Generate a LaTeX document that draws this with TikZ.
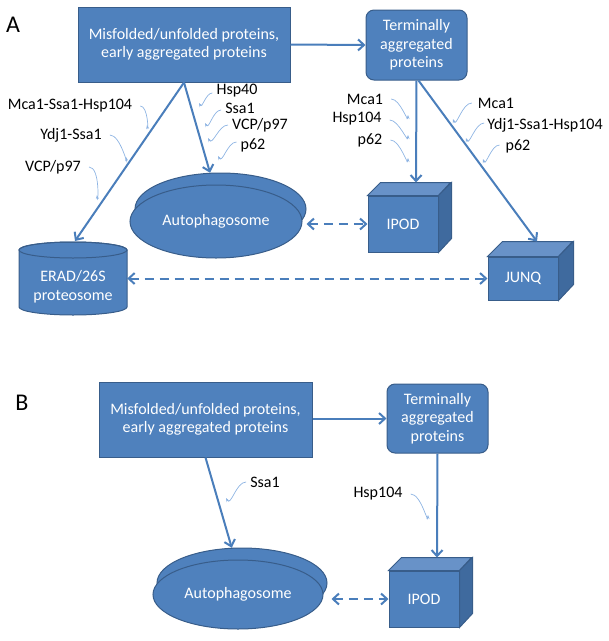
\documentclass[tikz,border=0pt]{standalone}
\usepackage{fontspec}
\setmainfont{Carlito}
\usetikzlibrary{shapes.geometric,arrows.meta,calc}
\definecolor{fillb}{HTML}{4F81BD}
\definecolor{edgeb}{HTML}{385D8A}
\definecolor{arrb}{HTML}{4A7EBB}
\definecolor{topf}{HTML}{6892C8}
\definecolor{sidef}{HTML}{3F6A9E}
\definecolor{curlc}{HTML}{8EB4E3}
\begin{document}
\begin{tikzpicture}[x=1pt,y=-1pt,
  txt/.style={font=\fontsize{16}{18.5}\selectfont},
  box/.style={txt,draw=edgeb,fill=fillb,line width=1pt,text=white,align=center,inner sep=0pt},
  facet/.style={draw=edgeb,line width=1pt},
  lbl/.style={txt,inner sep=0pt,text=black},
  panel/.style={font=\fontsize{24}{28}\selectfont,inner sep=0pt},
  flow/.style={draw=arrb,line width=2pt,-{Straight Barb[length=6pt,width=11pt,line width=2pt]}},
  dflow/.style={draw=arrb,line width=2pt,dash pattern=on 9pt off 6pt,
     {Straight Barb[length=6pt,width=11pt,line width=2pt]}-{Straight Barb[length=6pt,width=11pt,line width=2pt]}},
  curl/.style={draw=curlc,line width=0.7pt,-{Stealth[length=4pt,width=3pt]}}
]
\useasboundingbox (0,0) rectangle (609,641);

% ---------------- Panel A ----------------
\node[panel] (pA) at (13,24.5) {A};
\node[box,minimum width=212,minimum height=75] (mA) at (184,44.5)
  {Misfolded/unfolded proteins,\\early aggregated proteins};
\node[box,rounded corners=8pt,minimum width=101,minimum height=70] (tA) at (416.5,45)
  {Terminally\\aggregated\\proteins};

% autophagosome A
\node[ellipse,draw=edgeb,fill=fillb,line width=1pt,minimum width=171,minimum height=72,inner sep=0pt] (aAb) at (220.5,209) {};
\node[ellipse,box,minimum width=172,minimum height=73] (aA) at (216,221.5) {Autophagosome};

% IPOD A (cube)
\node[box,minimum width=70,minimum height=56] (iA) at (403,224) {IPOD};
\fill[topf,facet] (iA.north west) -- ++(13,-13) -- ++(70,0) -- (iA.north east) -- cycle;
\fill[sidef,facet] (iA.north east) -- ++(13,-13) -- ++(0,56) -- (iA.south east) -- cycle;
\coordinate (iAtop) at ($(iA.north)+(13,-13)$);

% JUNQ (cube)
\node[box,minimum width=70,minimum height=43] (jA) at (523,278.5) {JUNQ};
\fill[topf,facet] (jA.north west) -- ++(15,-15) -- ++(70,0) -- (jA.north east) -- cycle;
\fill[sidef,facet] (jA.north east) -- ++(15,-15) -- ++(0,43) -- (jA.south east) -- cycle;
\coordinate (jAtop) at ($(jA.north)+(14,-15)$);

% ERAD cylinder
\node[txt,text=white,align=center,inner sep=0pt,minimum width=108,minimum height=57] (eA) at (73,286.5) {};
\filldraw[fill=fillb,draw=edgeb,line width=1pt] (19,250) -- (19,307)
  arc[start angle=180,end angle=0,x radius=54,y radius=8] -- (127,250)
  arc[start angle=0,end angle=-180,x radius=54,y radius=8] -- cycle;
\draw[edgeb,line width=1pt] (73,250) ellipse[x radius=54,y radius=8];
\node[txt,text=white,align=center,inner sep=0pt] (eAt) at (eA) {ERAD/26S\\proteosome};
\coordinate (eAtop) at (75,241);

% connectors A
\draw[flow] (mA.east) -- (tA.west);
\draw[flow] (mA.south) -- (eAtop);
\draw[flow] (mA.south) -- (aAb);
\draw[flow] (tA.south) -- (iAtop);
\draw[flow] ($(tA.south)+(2,0)$) -- (jAtop);
\draw[dflow] (aAb.east |- iA.west) -- (iA.west);
\draw[dflow] (eA.east |- jA.west) -- (jA.west);

% labels A (left)
\node[lbl] (l1) at (70,106) {Mca1-Ssa1-Hsp104};
\node[lbl] (l2) at (71,135) {Ydj1-Ssa1};
\node[lbl] (l3) at (53,167) {VCP/p97};
\draw[curl] ($(l1.east)+(8,0)$) to[out=0,in=-80] (147,125);
\draw[curl] ($(l2.east)+(8,0)$) to[out=0,in=-80] (126,157);
\draw[curl] ($(l3.east)+(8,0)$) to[out=0,in=-85] (97,195);
% labels A (autophagy)
\node[lbl] (l4) at (237,91) {Hsp40};
\node[lbl] (l5) at (240,108) {Ssa1};
\node[lbl] (l6) at (260,125) {VCP/p97};
\node[lbl] (l7) at (253,145) {p62};
\draw[curl] ($(l4.west)+(-4,2)$) to[out=180,in=-60] (199,103);
\draw[curl] ($(l5.west)+(-4,2)$) to[out=180,in=-60] (205,123);
\draw[curl] ($(l6.west)+(-4,0)$) to[out=180,in=-60] (208,138);
\draw[curl] ($(l7.west)+(-4,-3)$) to[out=180,in=-60] (218,156);
% labels A (IPOD)
\node[lbl] (l8) at (365,99) {Mca1};
\node[lbl] (l9) at (357,119) {Hsp104};
\node[lbl] (l10) at (370,140) {p62};
\draw[curl] ($(l8.east)+(8,0)$) to[out=0,in=-90] (408,115);
\draw[curl] ($(l9.east)+(8,1)$) to[out=0,in=-90] (408,135);
\draw[curl] ($(l10.east)+(8,0)$) to[out=0,in=-90] (408,158);
% labels A (JUNQ)
\node[lbl] (l11) at (496,103) {Mca1};
\node[lbl] (l12) at (545,125) {Ydj1-Ssa1-Hsp104};
\node[lbl] (l13) at (518,146) {p62};
\draw[curl] ($(l11.west)+(-6,0)$) to[out=180,in=-70] (453,119);
\draw[curl] ($(l12.west)+(-3,-2)$) to[out=180,in=-70] (466,138);
\draw[curl] ($(l13.west)+(-6,-1)$) to[out=180,in=-70] (483,159);

% ---------------- Panel B ----------------
\node[panel] (pB) at (22,403) {B};
\node[box,minimum width=213,minimum height=75] (mB) at (205.5,419.5)
  {Misfolded/unfolded proteins,\\early aggregated proteins};
\node[box,rounded corners=8pt,minimum width=101,minimum height=69] (tB) at (437.5,418.5)
  {Terminally\\aggregated\\proteins};

\node[ellipse,draw=edgeb,fill=fillb,line width=1pt,minimum width=170,minimum height=70,inner sep=0pt] (aBb) at (242,583) {};
\node[ellipse,box,minimum width=170,minimum height=69] (aB) at (238,594.5) {Autophagosome};

\node[box,minimum width=70,minimum height=56] (iB) at (424,599) {IPOD};
\fill[topf,facet] (iB.north west) -- ++(13,-13) -- ++(70,0) -- (iB.north east) -- cycle;
\fill[sidef,facet] (iB.north east) -- ++(13,-13) -- ++(0,56) -- (iB.south east) -- cycle;
\coordinate (iBtop) at ($(iB.north)+(13,-13)$);

\draw[flow] (mB.east |- tB.west) -- (tB.west);
\draw[flow] (mB.south) -- (aBb);
\draw[flow] (tB.south) -- (iBtop);
\draw[dflow] ($(aBb.east |- iB.west)+(4,0)$) -- (iB.west);

\node[lbl] (l14) at (265,482) {Ssa1};
\draw[curl] ($(l14.west)+(-4,0)$) to[out=180,in=-60] (226,498);
\node[lbl] (l15) at (378,494) {Hsp104};
\draw[curl] ($(l15.east)+(8,0)$) to[out=0,in=-90] (428,515);
\end{tikzpicture}
\end{document}
